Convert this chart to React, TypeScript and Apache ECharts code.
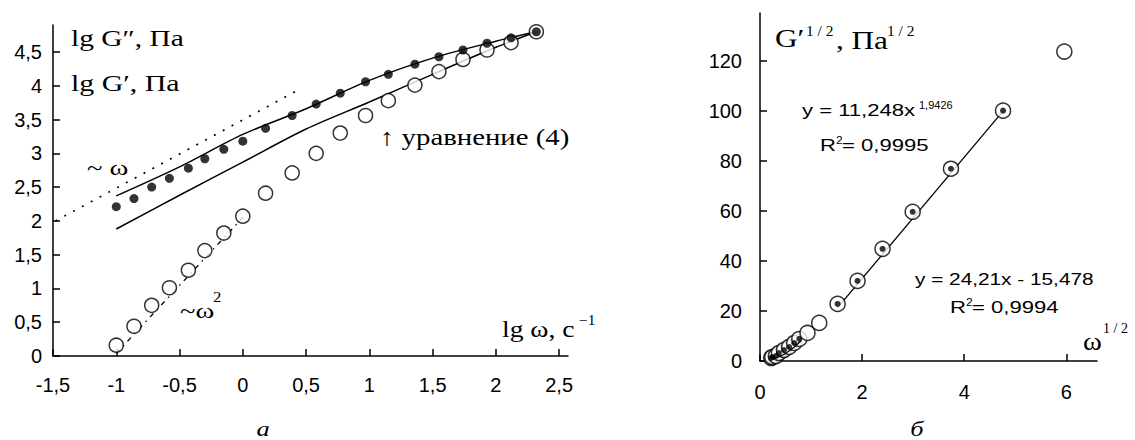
import React, { useEffect, useRef } from "react";
import * as echarts from "echarts";

// ---- Panel a: lg G', lg G'' vs lg ω ----
const lgW = [-1, -0.86, -0.72, -0.58, -0.43, -0.3, -0.15, 0, 0.18, 0.39, 0.58, 0.77, 0.97, 1.15, 1.36, 1.55, 1.74, 1.93, 2.12, 2.32];
const lgG2 = [2.21, 2.33, 2.5, 2.63, 2.78, 2.92, 3.06, 3.18, 3.37, 3.56, 3.73, 3.89, 4.06, 4.17, 4.32, 4.43, 4.53, 4.63, 4.71, 4.8];
const lgG1 = [0.16, 0.44, 0.75, 1.01, 1.27, 1.56, 1.82, 2.07, 2.41, 2.71, 3.0, 3.3, 3.56, 3.78, 4.01, 4.21, 4.39, 4.53, 4.64, 4.8];
const modelG2: number[][] = [[-1, 2.37], [-0.5, 2.8], [0, 3.28], [0.5, 3.66], [1, 4.08], [1.5, 4.41], [2, 4.66], [2.32, 4.8]];
const modelG1: number[][] = [[-1, 1.88], [-0.5, 2.38], [0, 2.87], [0.5, 3.36], [1, 3.76], [1.5, 4.17], [2, 4.57], [2.32, 4.8]];
const slopeOne: number[][] = [[-1.48, 2.0], [0.45, 3.95]];
const slopeTwo: number[][] = [[-1.0, 0.04], [0.05, 2.15]];
const xTicksA = [-1.5, -1, -0.5, 0, 0.5, 1, 1.5, 2, 2.5];
const yTicksA = [0, 0.5, 1, 1.5, 2, 2.5, 3, 3.5, 4, 4.5];

// ---- Panel б: G'^1/2 vs ω^1/2 ----
const sqrtW = [0.22, 0.24, 0.31, 0.37, 0.47, 0.57, 0.67, 0.77, 0.93, 1.16, 1.52, 1.91, 2.4, 2.99, 3.74, 4.76, 5.96];
const sqrtG = [1.2, 1.6, 2.0, 3.2, 4.4, 5.6, 7.2, 8.8, 11.2, 15.2, 22.8, 32.0, 44.8, 59.6, 76.8, 100, 123.6];
const dottedIdx = [0, 1, 2, 3, 4, 5, 6, 7, 10, 11, 12, 13, 14, 15];
const linearFit: number[][] = [[1.52, 21.3], [4.76, 99.8]];
const powerFit: number[][] = [[0.24, 0.8], [0.5, 3.0], [0.8, 8.0]];
const xTicksB = [0, 2, 4, 6];
const yTicksB = [0, 20, 40, 60, 80, 100, 120];

const SERIF = "'Liberation Serif', 'Times New Roman', serif";
const SANS = "Liberation Sans";

function txt(x: number, y: number, text: string, size: number, opts: any = {}) {
  return {
    type: "text",
    x,
    y,
    z: 100,
    scaleX: opts.sx || 1,
    style: {
      text,
      font: `${opts.italic ? "italic " : ""}${size}px ${opts.font || SERIF}`,
      fill: "#000",
      textAlign: opts.align || "left",
      textVerticalAlign: "middle",
    },
  };
}

export default function App() {
  const ref = useRef<HTMLDivElement>(null);
  useEffect(() => {
    const chart = echarts.init(ref.current!, null, { renderer: "svg" });
    const axisCommon = (ticks: number[], interval: number, margin: number) => ({
      type: "value",
      interval,
      axisLine: { show: true, onZero: false, lineStyle: { color: "#000", width: 1.5 } },
      axisTick: { show: true, inside: true, length: 7, customValues: ticks, lineStyle: { color: "#000", width: 1.5 } },
      axisLabel: {
        show: true,
        showMaxLabel: false,
        formatter: (v: number) =>
          ticks.some((t) => Math.abs(t - v) < 1e-6) ? String(v).replace(".", ",") : "",
        color: "#000",
        fontFamily: SANS,
        fontSize: 20,
        margin,
      },
      splitLine: { show: false },
    });
    const openCircle = { color: "#fff", borderColor: "#000", borderWidth: 1.5 };
    const option: any = {
      animation: false,
      backgroundColor: "#fff",
      grid: [
        { left: 53, right: 567, top: 25, bottom: 84 },
        { left: 760, right: 38, top: 13, bottom: 79 },
      ],
      xAxis: [
        { ...axisCommon(xTicksA, 0.5, 19), gridIndex: 0, min: -1.5, max: 2.57 },
        { ...axisCommon(xTicksB, 2, 21), gridIndex: 1, min: 0, max: 6.6 },
      ],
      yAxis: [
        { ...axisCommon(yTicksA, 0.5, 11), gridIndex: 0, min: 0, max: 4.9 },
        { ...axisCommon(yTicksB, 20, 18), gridIndex: 1, min: 0, max: 139 },
      ],
      series: [
        {
          type: "line", xAxisIndex: 0, yAxisIndex: 0, data: slopeOne, symbol: "none", z: 1,
          lineStyle: { color: "#000", width: 1.6, type: [2, 8] },
        },
        {
          type: "line", xAxisIndex: 0, yAxisIndex: 0, data: slopeTwo, symbol: "none", z: 1,
          lineStyle: { color: "#000", width: 1.3, type: [5, 5, 1.5, 5] },
        },
        {
          type: "line", xAxisIndex: 0, yAxisIndex: 0, data: modelG2, symbol: "none", z: 2, smooth: 0.3,
          lineStyle: { color: "#000", width: 1.5 },
        },
        {
          type: "line", xAxisIndex: 0, yAxisIndex: 0, data: modelG1, symbol: "none", z: 2, smooth: 0.3,
          lineStyle: { color: "#000", width: 1.5 },
        },
        {
          type: "scatter", xAxisIndex: 0, yAxisIndex: 0, z: 3,
          data: lgW.map((x, i) => [x, lgG1[i]]),
          symbol: "circle", symbolSize: 14, itemStyle: openCircle,
        },
        {
          type: "scatter", xAxisIndex: 0, yAxisIndex: 0, z: 4,
          data: lgW.map((x, i) => [x, lgG2[i]]),
          symbol: "circle", symbolSize: 9, itemStyle: { color: "#000" },
        },
        {
          type: "line", xAxisIndex: 1, yAxisIndex: 1, data: linearFit, symbol: "none", z: 2,
          lineStyle: { color: "#000", width: 1.3 },
        },
        {
          type: "scatter", xAxisIndex: 1, yAxisIndex: 1, z: 3,
          data: sqrtW.map((x, i) => [x, sqrtG[i]]),
          symbol: "circle", symbolSize: 15, itemStyle: openCircle,
        },
        {
          type: "line", xAxisIndex: 1, yAxisIndex: 1, data: powerFit, symbol: "none", z: 4, smooth: true,
          lineStyle: { color: "#000", width: 1.3 },
        },
        {
          type: "scatter", xAxisIndex: 1, yAxisIndex: 1, z: 5,
          data: dottedIdx.map((i) => [sqrtW[i], sqrtG[i]]),
          symbol: "circle", symbolSize: 6, itemStyle: { color: "#000" },
        },
      ],
      graphic: [
        txt(71, 38, "lg G″, Па", 23, { sx: 1.28 }),
        txt(71, 83, "lg G′, Па", 23, { sx: 1.3 }),
        txt(87, 168, "~ ω", 22, { sx: 1.3 }),
        txt(180, 311, "~ω", 22, { sx: 1.3 }),
        txt(213, 297, "2", 14, { sx: 1.2 }),
        txt(380, 137, "↑ уравнение (4)", 24, { sx: 1.2 }),
        txt(502, 329, "lg ω, c", 24, { sx: 1.15 }),
        txt(579, 320, "−1", 14, { sx: 1.1 }),
        txt(263, 428, "а", 22, { italic: true, align: "center", sx: 1.2 }),
        txt(775, 38, "G′", 26, { sx: 1.2 }),
        txt(806, 31, "1 / 2", 14, { sx: 1.1 }),
        txt(836, 40, ", Па", 26, { sx: 1.2 }),
        txt(887, 31, "1 / 2", 14, { sx: 1.1 }),
        txt(1083, 341, "ω", 26, { sx: 1.1 }),
        txt(1103, 328, "1 / 2", 14, { sx: 1.0 }),
        txt(917, 428, "б", 22, { italic: true, align: "center", sx: 1.2 }),
        txt(802, 111, "y = 11,248x", 16, { font: SANS, sx: 1.38 }),
        txt(919, 105, "1,9426", 10, { font: SANS, sx: 1.1 }),
        txt(820, 146, "R", 16, { font: SANS, sx: 1.38 }),
        txt(836, 140, "2", 10, { font: SANS, sx: 1.2 }),
        txt(842, 146, "= 0,9995", 16, { font: SANS, sx: 1.38 }),
        txt(915, 279, "y = 24,21x - 15,478", 16, { font: SANS, sx: 1.3 }),
        txt(950, 308, "R", 16, { font: SANS, sx: 1.38 }),
        txt(966, 302, "2", 10, { font: SANS, sx: 1.2 }),
        txt(972, 308, "= 0,9994", 16, { font: SANS, sx: 1.38 }),
      ],
    };
    chart.setOption(option);
    return () => chart.dispose();
  }, []);
  return (
    <div
      ref={ref}
      style={{ position: "fixed", left: 0, top: 0, width: 1135, height: 440, background: "#fff" }}
    />
  );
}
